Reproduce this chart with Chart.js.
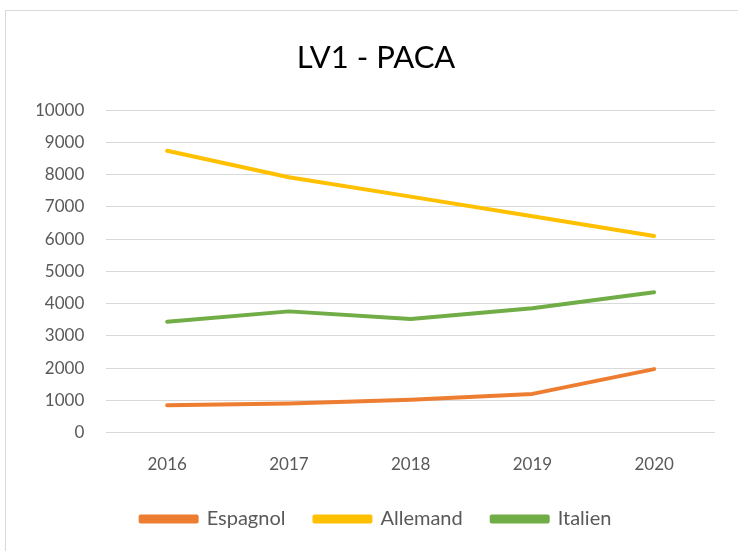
<!DOCTYPE html>
<html>
<head>
<meta charset="utf-8">
<script src="https://cdn.jsdelivr.net/npm/chart.js@4/dist/chart.umd.min.js"></script>
<style>
  html, body { margin: 0; padding: 0; background: #fff; }
  #wrap { position: relative; width: 738px; height: 551px; overflow: hidden; }
  #frame { position: absolute; left: 5px; top: 10px; width: 740px; height: 545px; border: 1px solid #d9d9d9; box-sizing: border-box; }
  canvas { position: absolute; left: 0; top: 0; }
</style>
</head>
<body>
<div id="wrap">
  <div id="frame"></div>
  <canvas id="chart" width="738" height="551"></canvas>
</div>
<script>
const years = ['2016', '2017', '2018', '2019', '2020'];
const espagnol = [850, 900, 1020, 1200, 1970];
const allemand = [8740, 7920, 7320, 6710, 6100];
const italien = [3440, 3760, 3520, 3860, 4350];
const yTicks = [0, 1000, 2000, 3000, 4000, 5000, 6000, 7000, 8000, 9000, 10000];

const font = "Lato, 'Open Sans', sans-serif";

function series(label, data, color) {
  return {
    label: label,
    data: data,
    borderColor: color,
    backgroundColor: color,
    borderWidth: 4,
    borderCapStyle: 'round',
    borderJoinStyle: 'round',
    pointRadius: 0,
    tension: 0
  };
}

new Chart(document.getElementById('chart').getContext('2d'), {
  type: 'line',
  data: {
    labels: years,
    datasets: [
      series('Espagnol', espagnol, '#ed7d31'),
      series('Allemand', allemand, '#ffc000'),
      series('Italien', italien, '#70ad47')
    ]
  },
  options: {
    responsive: false,
    animation: false,
    // extra left padding recentres title and legend; y axis gives it back below
    layout: { padding: { top: 18, left: 37, right: 23, bottom: 12 } },
    plugins: {
      title: {
        display: true,
        text: 'LV1 - PACA',
        color: '#000',
        font: { family: font, size: 31, weight: 'normal' },
        padding: { top: 21, bottom: 34 }
      },
      legend: {
        position: 'bottom',
        labels: {
          color: '#595959',
          font: { family: font, size: 20 },
          boxWidth: 56,
          boxHeight: 5,
          padding: 29
        }
      },
      tooltip: { enabled: false }
    },
    scales: {
      x: {
        offset: true,
        grid: { display: false, drawTicks: false },
        border: { display: false },
        afterFit: function (scale) { scale.height -= 17; },
        ticks: { color: '#595959', font: { family: font, size: 17 }, padding: 22 }
      },
      y: {
        min: 0,
        max: 10000,
        afterBuildTicks: function (axis) { axis.ticks = yTicks.map(v => ({ value: v })); },
        afterFit: function (scale) { scale.width -= 24; },
        grid: { color: '#d9d9d9', lineWidth: 1, drawTicks: false },
        border: { display: false },
        ticks: {
          color: '#595959',
          font: { family: font, size: 17 },
          padding: 22,
          callback: function (value) { return String(value); }
        }
      }
    }
  }
});
</script>
</body>
</html>
